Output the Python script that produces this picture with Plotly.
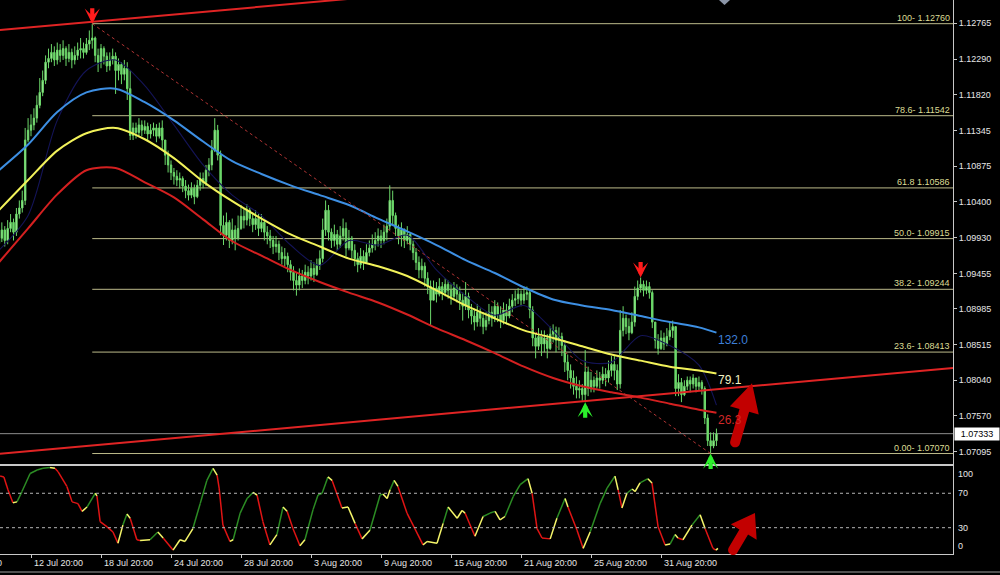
import math
import plotly.graph_objects as go

# ---------------- EURUSD H4 candles (prices in pips: 10992 -> 1.0992) ----------------
open_first_pips = 10985
close_pips = [
    10992, 11003, 10989, 11005, 11013, 11000, 11024, 11032, 11042, 11122,
    11135, 11142, 11151, 11168, 11185, 11201, 11225, 11230, 11238, 11228,
    11241, 11234, 11243, 11230, 11238, 11228, 11234, 11241, 11243, 11238,
    11249, 11254, 11257, 11234, 11225, 11243, 11233, 11220, 11228, 11233,
    11214, 11222, 11209, 11217, 11190, 11128, 11138, 11132, 11142, 11135,
    11140, 11130, 11135, 11138, 11127, 11138, 11122, 11102, 11089, 11079,
    11074, 11069, 11071, 11061, 11055, 11049, 11058, 11047, 11062, 11071,
    11066, 11082, 11089, 11108, 11135, 11102, 11009, 10996, 11013, 10989,
    11003, 10992, 11005, 11021, 11016, 11029, 11018, 11010, 11018, 11005,
    11013, 11000, 10995, 10989, 10981, 10984, 10973, 10965, 10968, 10957,
    10947, 10936, 10930, 10942, 10936, 10947, 10942, 10952, 10944, 10956,
    10965, 11003, 11029, 11000, 10989, 10997, 10984, 10995, 11005, 10979,
    10992, 10976, 10965, 10957, 10968, 10960, 10973, 10979, 10984, 10989,
    10995, 10989, 11000, 11008, 11042, 11022, 11005, 10995, 11003, 10989,
    10997, 10984, 10973, 10960, 10950, 10955, 10939, 10928, 10910, 10926,
    10918, 10928, 10920, 10931, 10923, 10915, 10926, 10918, 10910, 10902,
    10915, 10897, 10889, 10881, 10894, 10886, 10875, 10883, 10894, 10886,
    10902, 10891, 10883, 10897, 10889, 10902, 10910, 10912, 10918, 10910,
    10918, 10920, 10897, 10860, 10849, 10862, 10852, 10860, 10846, 10865,
    10870, 10857, 10862, 10850, 10828, 10817, 10807, 10796, 10791, 10793,
    10785, 10815, 10793, 10804, 10796, 10807, 10804, 10812, 10807, 10817,
    10825, 10817, 10799, 10870, 10886, 10875, 10867, 10881, 10915, 10926,
    10931, 10923, 10928, 10920, 10881, 10857, 10846, 10860, 10852, 10862,
    10870, 10875, 10793, 10801, 10785, 10796, 10804, 10799, 10807, 10796,
    10801, 10793, 10754, 10724, 10717, 10724, 10733,
]
high_pips = [
    11005, 11013, 11008, 11016, 11024, 11018, 11032, 11042, 11055, 11138,
    11151, 11156, 11164, 11181, 11204, 11214, 11234, 11243, 11249, 11246,
    11251, 11249, 11254, 11246, 11249, 11243, 11246, 11251, 11257, 11251,
    11257, 11267, 11276, 11259, 11243, 11249, 11246, 11238, 11238, 11243,
    11238, 11230, 11225, 11228, 11225, 11214, 11145, 11145, 11151, 11148,
    11148, 11145, 11143, 11145, 11143, 11145, 11148, 11122, 11108, 11095,
    11085, 11082, 11079, 11074, 11069, 11063, 11066, 11063, 11069, 11079,
    11079, 11089, 11098, 11122, 11151, 11142, 11108, 11022, 11026, 11016,
    11018, 11009, 11022, 11036, 11032, 11037, 11032, 11026, 11029, 11024,
    11024, 11016, 11008, 11003, 10995, 10995, 10989, 10981, 10979, 10973,
    10963, 10955, 10947, 10952, 10950, 10957, 10955, 10963, 10960, 10965,
    10976, 11018, 11042, 11036, 11005, 11010, 11003, 11008, 11018, 11013,
    11003, 10995, 10984, 10973, 10979, 10976, 10984, 10989, 10997, 11000,
    11005, 11003, 11010, 11018, 11062, 11055, 11026, 11010, 11013, 11005,
    11008, 11000, 10989, 10979, 10968, 10965, 10960, 10947, 10936, 10936,
    10934, 10939, 10934, 10939, 10936, 10931, 10934, 10931, 10928, 10920,
    10934, 10920, 10905, 10899, 10905, 10899, 10894, 10894, 10905, 10902,
    10910, 10907, 10902, 10907, 10905, 10912, 10918, 10923, 10926, 10923,
    10928, 10928, 10923, 10902, 10865, 10873, 10870, 10870, 10865, 10875,
    10878, 10875, 10874, 10867, 10857, 10838, 10825, 10817, 10809, 10804,
    10799, 10844, 10822, 10815, 10809, 10817, 10815, 10822, 10820, 10830,
    10836, 10836, 10825, 10897, 10902, 10891, 10886, 10894, 10928, 10936,
    10940, 10936, 10936, 10934, 10923, 10878, 10865, 10870, 10867, 10873,
    10881, 10883, 10875, 10812, 10807, 10804, 10809, 10809, 10812, 10807,
    10809, 10804, 10796, 10759, 10735, 10735, 10740,
]
low_pips = [
    10979, 10987, 10981, 10984, 11000, 10989, 10995, 11018, 11026, 11036,
    11119, 11127, 11135, 11145, 11164, 11180, 11196, 11217, 11225, 11220,
    11222, 11225, 11228, 11220, 11225, 11217, 11222, 11228, 11230, 11230,
    11235, 11241, 11243, 11225, 11212, 11217, 11222, 11212, 11214, 11222,
    11183, 11201, 11196, 11201, 11175, 11122, 11122, 11124, 11127, 11127,
    11130, 11122, 11124, 11127, 11119, 11124, 11108, 11089, 11079, 11069,
    11063, 11061, 11058, 11053, 11045, 11042, 11045, 11037, 11045, 11055,
    11058, 11061, 11074, 11082, 11106, 11095, 10996, 10983, 10989, 10979,
    10984, 10976, 10989, 11003, 11005, 11009, 11008, 11000, 11003, 10995,
    11000, 10989, 10984, 10979, 10971, 10973, 10963, 10957, 10955, 10947,
    10936, 10923, 10916, 10923, 10926, 10931, 10931, 10936, 10934, 10942,
    10950, 10960, 10995, 10989, 10979, 10981, 10976, 10979, 10989, 10968,
    10976, 10965, 10955, 10947, 10952, 10950, 10960, 10968, 10973, 10976,
    10981, 10979, 10984, 10989, 11003, 11009, 10995, 10984, 10981, 10979,
    10984, 10976, 10963, 10950, 10939, 10939, 10928, 10918, 10877, 10910,
    10907, 10915, 10910, 10915, 10912, 10904, 10910, 10907, 10897, 10883,
    10897, 10886, 10878, 10870, 10875, 10875, 10865, 10870, 10878, 10875,
    10881, 10881, 10873, 10878, 10878, 10886, 10894, 10902, 10905, 10902,
    10905, 10910, 10886, 10849, 10833, 10844, 10836, 10841, 10833, 10844,
    10854, 10841, 10844, 10836, 10815, 10804, 10793, 10785, 10780, 10780,
    10777, 10775, 10783, 10788, 10788, 10793, 10793, 10799, 10796, 10801,
    10809, 10804, 10791, 10793, 10862, 10865, 10857, 10865, 10875, 10910,
    10920, 10915, 10918, 10912, 10873, 10846, 10838, 10844, 10844, 10849,
    10857, 10860, 10783, 10783, 10775, 10783, 10791, 10788, 10793, 10788,
    10791, 10785, 10746, 10717, 10707, 10714, 10717,
]

# ---------------- moving averages (sampled along the bar axis) ----------------
ma_bars = [0, 10, 20, 30, 40, 50, 60, 70, 80, 90, 100, 110, 120, 130,
           140, 150, 160, 170, 180, 190, 200, 210, 220, 230, 240, 246]
ma_blue_pips = [11082, 11116, 11159, 11185, 11190, 11172, 11148, 11120, 11094, 11077,
                11062, 11049, 11036, 11018, 11001, 10983, 10963, 10946, 10927, 10911,
                10903, 10897, 10889, 10881, 10874, 10867]
ma_yellow_pips = [11029, 11069, 11108, 11131, 11138, 11123, 11098, 11067, 11041, 11018,
                  10997, 10981, 10965, 10955, 10942, 10923, 10903, 10886, 10870, 10860,
                  10849, 10838, 10830, 10822, 10817, 10813]
ma_red_pips = [10960, 11005, 11050, 11082, 11085, 11066, 11046, 11017, 10988, 10969,
               10950, 10934, 10920, 10907, 10891, 10873, 10857, 10840, 10822, 10807,
               10796, 10788, 10781, 10773, 10765, 10761]
ma_fast_pips = [10976, 11022, 11148, 11214, 11228, 11194, 11142, 11089, 11049, 11022,
                10983, 10956, 10989, 10983, 10996, 10950, 10916, 10890, 10903, 10870,
                10830, 10828, 10863, 10850, 10824, 10771]
ma_labels = ["132.0", "79.1", "26.3"]

# ---------------- oscillator ----------------
osc_bars = [0.4, 1.7, 3.1, 4.8, 6.2, 7.9, 10.7, 13.1, 15.1, 17.5, 19.2, 20.3, 23.3, 25.1,
            27.1, 28.5, 30.2, 33.0, 33.6, 34.7, 37.1, 39.1, 40.8, 42.5, 43.9, 45.0, 47.3,
            48.4, 51.8, 54.5, 56.3, 59.7, 62.1, 63.8, 66.5, 69.0, 71.3, 73.4, 74.8, 75.5,
            76.8, 79.2, 80.3, 82.7, 85.1, 87.1, 88.5, 90.5, 92.9, 95.3, 97.4, 98.8, 100.8,
            103.2, 104.9, 107.7, 109.4, 110.8, 112.8, 114.2, 117.6, 119.7, 122.1, 124.5,
            127.2, 130.7, 131.7, 133.1, 134.1, 135.5, 136.8, 139.9, 142.6, 145.4, 146.8,
            150.2, 152.3, 154.0, 157.1, 158.8, 159.8, 163.2, 166.0, 168.4, 170.1, 171.8,
            173.5, 176.3, 178.7, 181.4, 182.8, 184.5, 186.2, 189.0, 191.3, 194.1, 195.1,
            198.2, 200.3, 202.7, 206.1, 208.5, 211.2, 212.3, 213.6, 215.3, 217.1, 218.1,
            219.8, 222.5, 223.9, 226.0, 228.4, 230.1, 231.8, 232.8, 234.5, 237.6, 240.4,
            242.1, 244.8, 245.8, 246.5]
osc_vals = [90, 89, 74, 59, 60, 72, 93, 97, 99, 100, 99, 95, 78, 60,
            58, 49, 54, 70, 67, 37, 31, 25, 12, 33, 46, 41, 16,
            15, 16, 25, 18, 4, 16, 14, 29, 58, 85, 99, 91, 76,
            33, 14, 16, 47, 64, 71, 68, 37, 10, 22, 54, 49, 29,
            9, 16, 51, 68, 70, 89, 85, 53, 54, 35, 17,
            27, 68, 69, 64, 74, 85, 78, 47, 29, 10, 14,
            12, 35, 54, 41, 50, 47, 20, 43, 47, 49, 39,
            43, 66, 80, 87, 70, 29, 18, 17, 41, 64, 54,
            27, 6, 25, 58, 76, 90, 74, 53, 70, 75, 72,
            82, 87, 82, 31, 10, 11, 22, 18, 16, 33, 45,
            29, 6, 4, 6]
osc_ticks = [100, 70, 30, 0]

# ---------------- Fibonacci retracement, axis ticks, dates ----------------
fib_ratio_text = ["100-", "78.6-", "61.8", "50.0-", "38.2-", "23.6-", "0.00-"]
fib_prices = [1.12760, 1.11542, 1.10586, 1.09915, 1.09244, 1.08413, 1.07070]
price_ticks = [1.12765, 1.12290, 1.11820, 1.11345, 1.10875, 1.10400, 1.09930,
               1.09455, 1.08985, 1.08515, 1.08040, 1.07570, 1.07095]
date_tick_bars = [11, 35, 59, 83, 107, 131, 155, 179, 203, 227]
date_tick_text = ["12 Jul 20:00", "18 Jul 20:00", "24 Jul 20:00", "28 Jul 20:00",
                  "3 Aug 20:00", "9 Aug 20:00", "15 Aug 20:00", "21 Aug 20:00",
                  "25 Aug 20:00", "31 Aug 20:00"]
prev_date_text = "6 Jul 20:00"
last_price = 1.07333

# fractal-style signal arrows: bar index and direction
signal_bars = [32, 220, 201, 244]
signal_dirs = ["down", "down", "up", "up"]
swing_high_bar, swing_low_bar = 32, 244

# hand-drawn objects: trend channel lines and bold arrows (bar, value)
channel_upper = [(0.0, 1.12674), (137.5, 1.13149)]
channel_lower = [(0.37, 1.07066), (327.1, 1.08203)]
bold_arrow_main = [(252.4, 1.07218), (258.2, 1.07999)]
bold_arrow_osc = [(251.7, 4.0), (259.2, 47.0)]

# ---------------- layout geometry ----------------
W, H = 1000, 575
MR, MB = 47, 21
PW, PH = W - MR, H - MB
XR = [0.37, 327.1]
YR = [1.069318, 1.130734]
MAIN_DOM = [0.1625, 1.0]
OSC_DOM = [0.0, 0.158]
OR = [-0.58, 101.16]

BG = "#000000"
AXIS = "#c8c8c8"
TXT = "#e6e6e6"
FONT = "Liberation Sans, Arial, sans-serif"

to_price = lambda seq: [v / 10000.0 for v in seq]
close = to_price(close_pips)
high = to_price(high_pips)
low = to_price(low_pips)
opens = [open_first_pips / 10000.0] + close[:-1]
high = [max(h, o, c) for h, o, c in zip(high, opens, close)]
low = [min(l, o, c) for l, o, c in zip(low, opens, close)]
bars = list(range(len(close)))


def px_x(b):
    return (b - XR[0]) / (XR[1] - XR[0]) * PW


def px_y_main(p):
    f = MAIN_DOM[0] + (p - YR[0]) / (YR[1] - YR[0]) * (MAIN_DOM[1] - MAIN_DOM[0])
    return (1 - f) * PH


def px_y_osc(v):
    f = OSC_DOM[0] + (v - OR[0]) / (OR[1] - OR[0]) * (OSC_DOM[1] - OSC_DOM[0])
    return (1 - f) * PH


def arrow_path(tail, tip, shaft_w, head_w, head_l):
    (x0, y0), (x1, y1) = tail, tip
    L = math.hypot(x1 - x0, y1 - y0)
    ux, uy = (x1 - x0) / L, (y1 - y0) / L
    nx, ny = -uy, ux
    pts = []
    for k in range(13):
        t = math.pi * k / 12
        pts.append((x0 + (nx * math.cos(t) - ux * math.sin(t)) * shaft_w / 2,
                    y0 + (ny * math.cos(t) - uy * math.sin(t)) * shaft_w / 2))
    bx, by = x1 - ux * head_l, y1 - uy * head_l
    pts += [(bx - nx * shaft_w / 2, by - ny * shaft_w / 2),
            (bx - nx * head_w / 2, by - ny * head_w / 2),
            (x1, y1),
            (bx + nx * head_w / 2, by + ny * head_w / 2),
            (bx + nx * shaft_w / 2, by + ny * shaft_w / 2)]
    s = ""
    for i, (x, y) in enumerate(pts):
        s += ("M" if i == 0 else "L") + f"{x / PW:.5f},{1 - y / PH:.5f}"
    return s + "Z"


fig = go.Figure()

# moving averages
ma_specs = [(ma_fast_pips, "#141458", 1.1), (ma_red_pips, "#d42020", 2),
            (ma_yellow_pips, "#f2f25a", 2), (ma_blue_pips, "#3d8fe3", 2)]
for vals, col, wdt in ma_specs:
    fig.add_trace(go.Scatter(x=ma_bars, y=to_price(vals), mode="lines",
                             line=dict(color=col, width=wdt, shape="spline", smoothing=0.8),
                             hoverinfo="skip", xaxis="x", yaxis="y"))

# channel and retracement diagonal
for line in (channel_upper, channel_lower):
    fig.add_trace(go.Scatter(x=[p[0] for p in line], y=[p[1] for p in line], mode="lines",
                             line=dict(color="#e02424", width=2), hoverinfo="skip"))
fig.add_trace(go.Scatter(x=[swing_high_bar, swing_low_bar], y=[fib_prices[0], fib_prices[-1]],
                         mode="lines", line=dict(color="#b03434", width=1, dash="dot"),
                         hoverinfo="skip"))

# candles
fig.add_trace(go.Candlestick(
    x=bars, open=opens, high=high, low=low, close=close,
    increasing=dict(line=dict(color="#6cd86a", width=1), fillcolor="#b4f2aa"),
    decreasing=dict(line=dict(color="#6cd86a", width=1), fillcolor="#6cd86a"),
    whiskerwidth=0, hoverinfo="skip", xaxis="x", yaxis="y"))

# oscillator, coloured by direction (yellow on turns)
segs = {"#2c8c24": ([], []), "#e01414": ([], []), "#f5f56a": ([], [])}
prev = None
for k in range(len(osc_bars) - 1):
    d = 1 if osc_vals[k + 1] >= osc_vals[k] else -1
    if prev is not None and d != prev:
        col = "#f5f56a"
    else:
        col = "#2c8c24" if d > 0 else "#e01414"
    prev = d
    xs, ys = segs[col]
    xs += [osc_bars[k], osc_bars[k + 1], None]
    ys += [osc_vals[k], osc_vals[k + 1], None]
for col, (xs, ys) in segs.items():
    fig.add_trace(go.Scatter(x=xs, y=ys, mode="lines", line=dict(color=col, width=1.5),
                             hoverinfo="skip", xaxis="x2", yaxis="y2"))

shapes = []
# Fibonacci levels
for p in fib_prices:
    shapes.append(dict(type="line", xref="x", yref="y", x0=swing_high_bar, x1=XR[1],
                       y0=p, y1=p, line=dict(color="#bcba8a", width=1), layer="below"))
# bid line
shapes.append(dict(type="line", xref="paper", yref="y", x0=0, x1=1, y0=last_price,
                   y1=last_price, line=dict(color="#8c8c8c", width=1), layer="below"))
# oscillator levels
for lv in (70, 30):
    shapes.append(dict(type="line", xref="paper", yref="y2", x0=0, x1=1, y0=lv, y1=lv,
                       line=dict(color="#b4b4b4", width=1, dash="dot")))
# window frame bottom
shapes.append(dict(type="line", xref="paper", yref="paper", x0=0, x1=W / PW,
                   y0=1 - 572 / PH, y1=1 - 572 / PH, line=dict(color="#a0a0a0", width=1)))
# chart-shift marker
shapes.append(dict(type="path", xref="paper", yref="paper",
                   path=f"M{719 / PW:.5f},1 L{730 / PW:.5f},1 L{724.5 / PW:.5f},{1 - 5 / PH:.5f} Z",
                   fillcolor="#8c96a8", line=dict(width=0)))
# bold arrows
(tb, tp), (hb, hp) = bold_arrow_main
shapes.append(dict(type="path", xref="paper", yref="paper",
                   path=arrow_path((px_x(tb), px_y_main(tp)), (px_x(hb), px_y_main(hp)), 10, 30, 28),
                   fillcolor="#c20000", line=dict(width=0)))
(tb, tv), (hb, hv) = bold_arrow_osc
shapes.append(dict(type="path", xref="paper", yref="paper",
                   path=arrow_path((px_x(tb), px_y_osc(tv)), (px_x(hb), px_y_osc(hv)), 10, 30, 22),
                   fillcolor="#c20000", line=dict(width=0)))

ann = []
# Fibonacci labels
for t, p in zip(fib_ratio_text, fib_prices):
    ann.append(dict(xref="paper", yref="y", x=1, y=p, xanchor="right", yanchor="bottom",
                    xshift=-1, yshift=-1, text=f"{t} {p:.5f}", showarrow=False,
                    font=dict(color="#dcdc94", size=9, family=FONT)))
# last price box
ann.append(dict(xref="paper", yref="y", x=1, y=last_price, xanchor="left", yanchor="middle",
                xshift=1, text=f"{last_price:.5f}", showarrow=False, bgcolor="#ffffff",
                width=42, borderpad=1, font=dict(color="#000000", size=9, family=FONT)))
# MA end labels
for txt, vals, col in zip(ma_labels, (ma_blue_pips, ma_yellow_pips, ma_red_pips),
                          ("#3d7fd8", "#f2f2c2", "#d02828")):
    ann.append(dict(xref="x", yref="y", x=ma_bars[-1], y=vals[-1] / 10000.0, xanchor="left",
                    yanchor="middle", yshift=-7, text=txt, showarrow=False,
                    font=dict(color=col, size=12, family=FONT)))
# signal arrows
for b, d in zip(signal_bars, signal_dirs):
    if d == "down":
        ann.append(dict(xref="x", yref="y", x=b, y=high[b], ax=0, ay=-17, text="",
                        showarrow=True, arrowhead=3, arrowsize=0.6, arrowwidth=4.2,
                        arrowcolor="#ff1c1c", standoff=0))
    else:
        ann.append(dict(xref="x", yref="y", x=b, y=low[b], ax=0, ay=17, text="",
                        showarrow=True, arrowhead=3, arrowsize=0.6, arrowwidth=4.2,
                        arrowcolor="#2cf02c", standoff=0))
# date labels
ylab = 1 - 562.5 / PH
for b, t in zip(date_tick_bars, date_tick_text):
    ann.append(dict(xref="x2", yref="paper", x=b, y=ylab, xanchor="left", yanchor="middle",
                    xshift=1, text=t, showarrow=False, font=dict(color=TXT, size=9, family=FONT)))
ann.append(dict(xref="paper", yref="paper", x=0, y=ylab, xanchor="right", yanchor="middle",
                xshift=4, text=prev_date_text, showarrow=False,
                font=dict(color=TXT, size=9, family=FONT)))
# oscillator scale labels
for v in osc_ticks:
    ya = "top" if v == 100 else ("bottom" if v == 0 else "middle")
    ann.append(dict(xref="paper", yref="y2", x=1, y=v, xanchor="left", yanchor=ya,
                    xshift=3, text=str(v), showarrow=False,
                    font=dict(color=TXT, size=9, family=FONT)))

fig.update_layout(
    width=W, height=H, margin=dict(l=0, r=MR, t=0, b=MB),
    paper_bgcolor=BG, plot_bgcolor=BG, showlegend=False,
    font=dict(family=FONT, size=9, color=TXT),
    shapes=shapes, annotations=ann,
    xaxis=dict(range=XR, anchor="y", showgrid=False, zeroline=False, showticklabels=False,
               showline=True, linecolor=AXIS, linewidth=1, ticks="",
               rangeslider=dict(visible=False), fixedrange=True),
    xaxis2=dict(range=XR, anchor="y2", showgrid=False, zeroline=False, showticklabels=False,
                showline=True, mirror=True, linecolor=AXIS, linewidth=1,
                ticks="outside", tickvals=date_tick_bars, ticklen=3, tickcolor=AXIS),
    yaxis=dict(domain=MAIN_DOM, range=YR, side="right", anchor="x", showgrid=False,
               zeroline=False, showline=True, linecolor=AXIS, linewidth=1,
               ticks="outside", ticklen=3, tickcolor=AXIS, tickvals=price_ticks,
               ticktext=[f"{v:.5f}" for v in price_ticks],
               tickfont=dict(color=TXT, size=9, family=FONT)),
    yaxis2=dict(domain=OSC_DOM, range=OR, side="right", anchor="x2", showgrid=False,
                zeroline=False, showline=True, linecolor=AXIS, linewidth=1,
                ticks="", showticklabels=False),
)

fig.write_html("out.html")
